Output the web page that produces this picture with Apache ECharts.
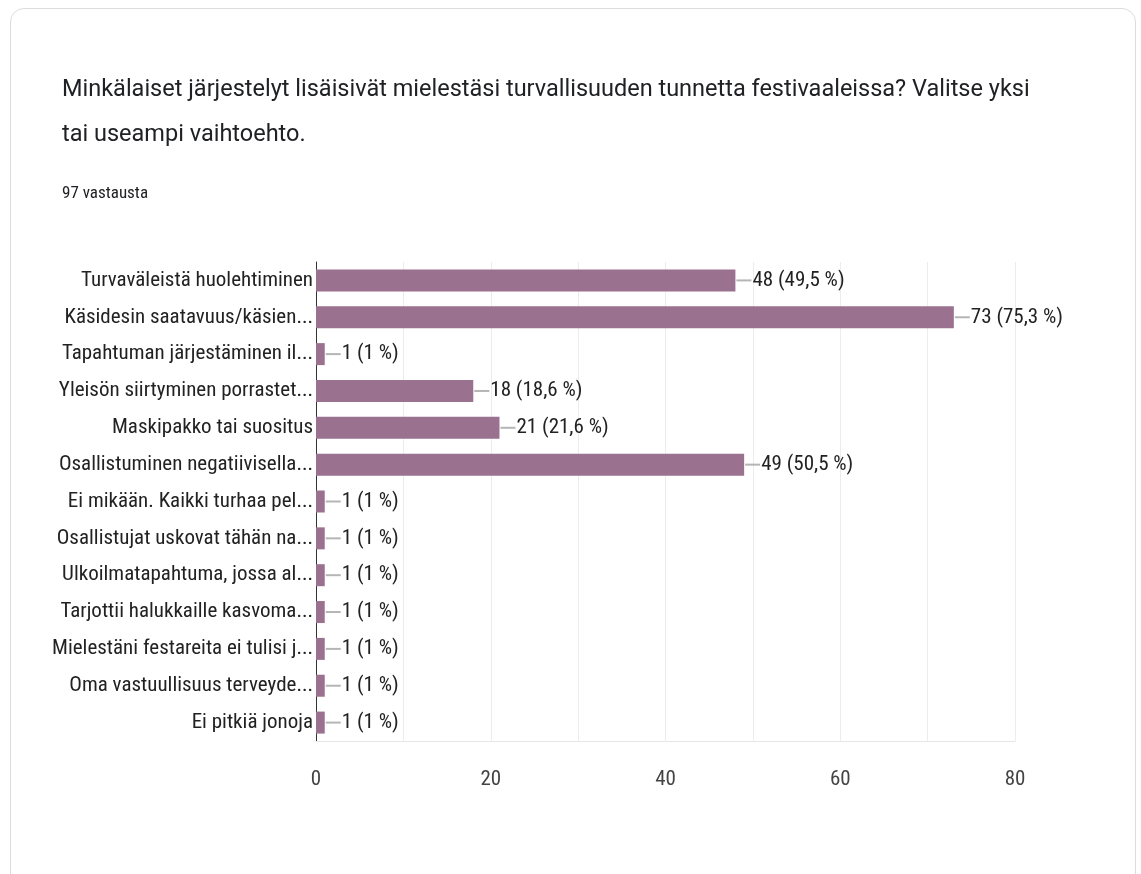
<!DOCTYPE html>
<html>
<head>
<meta charset="utf-8">
<script src="https://cdn.jsdelivr.net/npm/echarts@6/dist/echarts.min.js"></script>
<style>
html,body{margin:0;padding:0;background:#fff;}
#card{position:absolute;left:10px;top:8px;width:1126px;height:900px;border:1px solid #dadce0;border-radius:14px;box-sizing:border-box;}
#chart{position:absolute;left:0;top:0;width:1141px;height:874px;}
</style>
</head>
<body>
<div id="card"></div>
<div id="chart"></div>
<script>
const titleLines = ["Minkälaiset järjestelyt lisäisivät mielestäsi turvallisuuden tunnetta festivaaleissa? Valitse yksi", "tai useampi vaihtoehto."];
const subtitle = "97 vastausta";
const categories = [
  "Turvaväleistä huolehtiminen",
  "Käsidesin saatavuus/käsien...",
  "Tapahtuman järjestäminen il...",
  "Yleisön siirtyminen porrastet...",
  "Maskipakko tai suositus",
  "Osallistuminen negatiivisella...",
  "Ei mikään. Kaikki turhaa pel...",
  "Osallistujat uskovat tähän na...",
  "Ulkoilmatapahtuma, jossa al...",
  "Tarjottii halukkaille kasvoma...",
  "Mielestäni festareita ei tulisi j...",
  "Oma vastuullisuus terveyde...",
  "Ei pitkiä jonoja"
];
const counts = [48, 73, 1, 18, 21, 49, 1, 1, 1, 1, 1, 1, 1];
const percents = ["49,5", "75,3", "1", "18,6", "21,6", "50,5", "1", "1", "1", "1", "1", "1", "1"];
const xTicks = [0, 20, 40, 60, 80];

const narrow = "'Roboto Condensed', 'Liberation Sans Narrow', 'Arial Narrow', 'Liberation Sans', sans-serif";
const chart = echarts.init(document.getElementById('chart'));
chart.setOption({
  animation: false,
  title: [
    {text: titleLines.join('\n'), left: 57, top: 63,
     textStyle: {fontFamily: 'Roboto, sans-serif', fontSize: 23.5, fontWeight: 'normal', color: '#202124', lineHeight: 45}},
    {text: subtitle, left: 57, top: 180,
     textStyle: {fontFamily: narrow, fontSize: 17, fontWeight: 'normal', color: '#202124'}}
  ],
  grid: {left: 316, right: 126, top: 262, bottom: 133, containLabel: false},
  xAxis: {
    type: 'value', min: 0, max: 80, interval: 10,
    axisLine: {show: true, lineStyle: {color: '#e6e6e6'}},
    axisTick: {show: false},
    splitLine: {show: true, lineStyle: {color: '#ececec'}},
    axisLabel: {
      margin: 28, color: '#444', fontFamily: narrow, fontSize: 21,
      formatter: v => xTicks.indexOf(v) >= 0 ? String(v) : ''
    }
  },
  yAxis: {
    type: 'category', data: categories, inverse: true,
    axisLine: {show: true, onZero: false, lineStyle: {color: '#333', width: 1}},
    axisTick: {show: false},
    axisLabel: {margin: 3, color: '#222', fontFamily: narrow, fontSize: 21}
  },
  series: [{
    type: 'bar',
    data: counts,
    barWidth: 22,
    itemStyle: {color: '#9b7190'},
    label: {
      show: true, position: 'right', distance: 1,
      formatter: p => '{l| }{v|' + counts[p.dataIndex] + ' (' + percents[p.dataIndex] + ' %)}',
      rich: {
        l: {width: 15, height: 2, backgroundColor: '#b5b5b5', verticalAlign: 'middle'},
        v: {color: '#222', fontFamily: narrow, fontSize: 21, padding: [0, 0, 0, 1]}
      }
    }
  }]
});
</script>
</body>
</html>
